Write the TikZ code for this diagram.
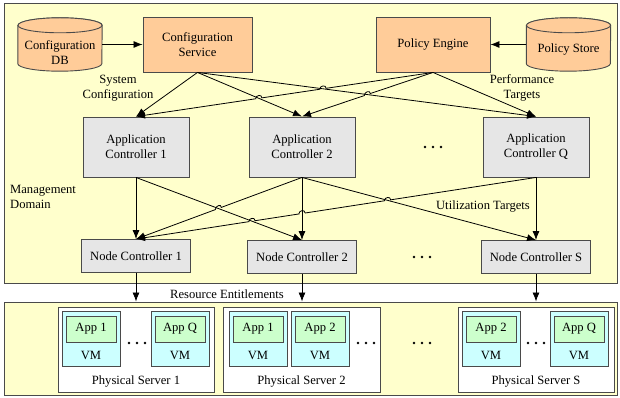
\documentclass[tikz,border=0pt]{standalone}
\usepackage{fontspec}
\setmainfont{Liberation Serif}
\usetikzlibrary{arrows.meta,calc,intersections}
\definecolor{bgy}{HTML}{FFFFCC}
\definecolor{orng}{HTML}{FFCC99}
\definecolor{gry}{HTML}{E6E6E6}
\definecolor{vmc}{HTML}{CCFFFF}
\definecolor{appc}{HTML}{CCFFCC}
\definecolor{bord}{HTML}{4A4A4A}
\begin{document}
\begin{tikzpicture}[x=1pt,y=-1pt,font=\fontsize{12.6}{15}\selectfont,
  frame/.style={draw=bord,line width=0.9pt,inner sep=0pt},
  box/.style={draw=bord,line width=0.9pt,align=center,inner sep=0pt},
  orbox/.style={box,fill=orng,minimum height=55pt},
  acbox/.style={box,fill=gry,minimum width=106pt,minimum height=60pt},
  ncbox/.style={box,fill=gry,minimum width=109pt,minimum height=33pt},
  psbox/.style={box,fill=white,minimum width=156pt,minimum height=85pt},
  vmbox/.style={box,fill=vmc,minimum width=58pt,minimum height=55pt},
  appbox/.style={box,fill=appc,minimum width=50pt,minimum height=26pt},
  lbl/.style={align=center,inner sep=0pt},
  conn/.style={line width=0.8pt,black},
  arr/.style={conn,-{Latex[length=9pt,width=7pt]}},
  dotsx/.pic={\fill (-8,0) circle[radius=1.4pt] (0,0) circle[radius=1.4pt] (8,0) circle[radius=1.4pt];}]
\useasboundingbox (0,0) rectangle (620,398);
% frames
\node[frame,fill=bgy,minimum width=613pt,minimum height=280pt] (mgmt) at (310.5,143) {};
\node[frame,fill=bgy,minimum width=613pt,minimum height=93pt] (low) at (310.5,348.5) {};
% cylinders
\newcommand{\cyl}[3]{% name, x, y
  \node[inner sep=0pt,minimum width=84pt,minimum height=53pt] (#1) at (#2,#3) {};
  \draw[draw=bord,line width=0.9pt,fill=orng] ([yshift=-7.5pt]#1.north west) -- ([yshift=7.5pt]#1.south west)
    arc[start angle=180,end angle=360,x radius=42pt,y radius=7.5pt] -- ([yshift=-7.5pt]#1.north east)
    arc[start angle=0,end angle=180,x radius=42pt,y radius=7.5pt] -- cycle;
  \draw[draw=bord,line width=0.9pt,fill=orng] ([yshift=-7.5pt]#1.north) ellipse[x radius=42pt,y radius=7.5pt];
}
\cyl{db}{60}{44.5}
\node[lbl] (dbt) at (60,53) {Configuration\\DB};
\cyl{ps}{568.5}{44.5}
\node[lbl] (pst) at (568.5,49) {Policy Store};
% top boxes
\node[orbox,minimum width=109pt] (cs) at (197.5,44.5) {Configuration\\Service};
\node[orbox,minimum width=114pt] (pe) at (433,44.5) {Policy Engine};
\draw[arr] (db.east) -- (cs.west);
\draw[arr] (ps.west) -- (pe.east);
% app controllers
\node[acbox] (ac1) at (136,147) {Application\\Controller 1};
\node[acbox] (ac2) at (302,147) {Application\\Controller 2};
\node[acbox] (acq) at (536,147) {Application\\Controller Q};
\pic at (433,147) {dotsx};
% node controllers
\node[ncbox] (nc1) at (136,256) {Node Controller 1};
\node[ncbox] (nc2) at (302,257) {Node Controller 2};
\node[ncbox] (ncs) at (536,257) {Node Controller S};
\pic at (422,257) {dotsx};
% labels
\node[lbl] (l1) at (118,88) {System\\Configuration};
\node[lbl] (l2) at (522,88) {Performance\\Targets};
\node[lbl,anchor=west,align=left] (l3) at (10,197) {Management\\Domain};
\node[lbl] (l4) at (483,206) {Utilization Targets};
\node[lbl] (l5) at (227,294) {Resource Entitlements};
% top connectors
\draw[arr,name path=c1] (cs.south) -- (ac1.north);
\draw[arr,name path=c2] (cs.south) -- (ac2.north);
\draw[arr,name path=c3] (cs.south) -- (acq.north);
\draw[arr,name path=p1] (pe.south) -- (ac1.north);
\draw[arr,name path=p2] (pe.south) -- (ac2.north);
\draw[arr,name path=p3] (pe.south) -- (acq.north);
% middle connectors
\draw[arr,name path=m11] (ac1.south) -- (nc1.north);
\draw[arr,name path=m12] (ac1.south) -- (nc2.north);
\draw[arr,name path=m21] (ac2.south) -- (nc1.north);
\draw[arr,name path=m22] (ac2.south) -- (nc2.north);
\draw[arr,name path=m2s] (ac2.south) -- (ncs.north);
\draw[arr,name path=mq1] (acq.south) -- (nc1.north);
\draw[arr,name path=mqs] (acq.south) -- (ncs.north);
% line jumps: #1,#2 paths; #3,#4 ends of under line; #5,#6 ends of jumping line
\newcommand{\jump}[6]{%
  \path[name intersections={of=#1 and #2,by=jx}];
  \fill[bgy] (jx) circle[radius=2.9pt];
  \draw[conn] ($(jx)!3.2pt!(#3)$) -- ($(jx)!3.2pt!(#4)$);
  \draw[conn] ($(jx)!3.2pt!(#5)$) .. controls +(0,-3.8) and +(0,-3.8) .. ($(jx)!3.2pt!(#6)$);
}
\jump{c2}{p1}{cs.south}{ac2.north}{ac1.north}{pe.south}
\jump{c3}{p1}{cs.south}{acq.north}{ac1.north}{pe.south}
\jump{c3}{p2}{cs.south}{acq.north}{ac2.north}{pe.south}
\jump{m12}{m21}{ac1.south}{nc2.north}{nc1.north}{ac2.south}
\jump{m12}{mq1}{ac1.south}{nc2.north}{nc1.north}{acq.south}
\jump{m22}{mq1}{ac2.south}{nc2.north}{nc1.north}{acq.south}
\jump{m2s}{mq1}{ac2.south}{ncs.north}{nc1.north}{acq.south}
% physical servers
\node[psbox] (s1) at (136,349.5) {};
\node[psbox,minimum width=157pt] (s2) at (301.5,349.5) {};
\node[psbox] (ss) at (536,349.5) {};
\node[lbl] (s1t) at (136,381) {Physical Server 1};
\node[lbl] (s2t) at (301.5,381) {Physical Server 2};
\node[lbl] (sst) at (536,381) {Physical Server S};
\draw[arr] (nc1.south) -- (nc1.south |- low.north);
\draw[arr] (nc2.south) -- (nc2.south |- low.north);
\draw[arr] (ncs.south) -- (ncs.south |- low.north);
% VMs
\newcommand{\vmapp}[3]{% name, x, app text
  \node[vmbox] (vm#1) at (#2,338.5) {};
  \node[appbox] (app#1) at (#2,329) {#3};
  \node[lbl] (vmt#1) at (#2,355) {VM};
}
\vmapp{a}{91}{App 1}
\vmapp{b}{180}{App Q}
\vmapp{c}{258}{App 1}
\vmapp{d}{320}{App 2}
\vmapp{e}{491}{App 2}
\vmapp{f}{579}{App Q}
\pic at (137,343) {dotsx};
\pic at (366,343) {dotsx};
\pic at (422,343) {dotsx};
\pic at (536,343) {dotsx};
\end{tikzpicture}
\end{document}
